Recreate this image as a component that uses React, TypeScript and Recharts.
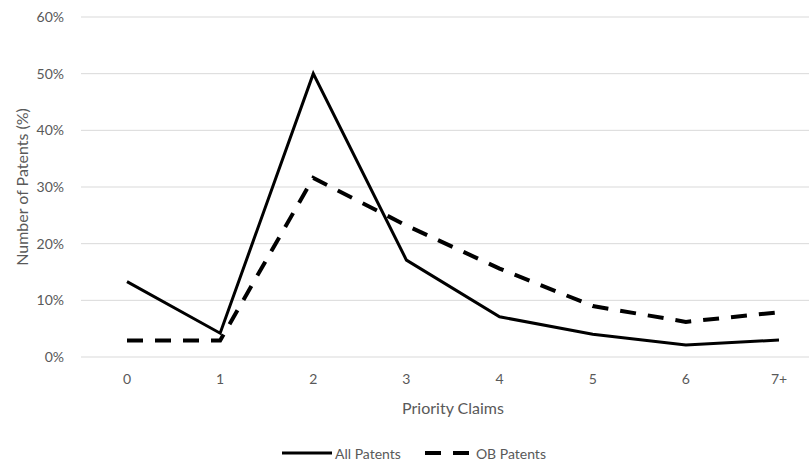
import React from 'react';
import { LineChart, Line, XAxis, YAxis, CartesianGrid, Legend } from 'recharts';

const categories = ['0', '1', '2', '3', '4', '5', '6', '7+'];
const allPatents = [13.3, 4.2, 50, 17.1, 7.1, 4.0, 2.1, 3.0];
const obPatents = [2.9, 2.9, 31.6, 23.2, 15.6, 9.0, 6.2, 7.9];
const yTicks = [0, 10, 20, 30, 40, 50, 60];

const data = categories.map((c, i) => ({ cat: c, all: allPatents[i], ob: obPatents[i] }));

const FONT = 'Lato, "Open Sans", sans-serif';
const GREY = '#595959';

const LegendContent = () => (
  <div style={{ display: 'flex', alignItems: 'center', marginLeft: 282, fontFamily: FONT, fontSize: 14, color: GREY, height: 20 }}>
    <svg width={50} height={10}><line x1={0} y1={5} x2={50} y2={5} stroke="#000" strokeWidth={3} /></svg>
    <span style={{ marginLeft: 3 }}>All Patents</span>
    <svg width={46} height={10} style={{ marginLeft: 24 }}><line x1={0} y1={5} x2={46} y2={5} stroke="#000" strokeWidth={4} strokeDasharray="16 12" /></svg>
    <span style={{ marginLeft: 5 }}>OB Patents</span>
  </div>
);

export default function App() {
  return (
    <div style={{ position: 'absolute', left: 0, top: 0, width: 809, height: 461, overflow: 'hidden', background: '#fff' }}>
      <LineChart width={830} height={461} data={data} margin={{ top: 17, right: 5, bottom: 27, left: 0 }}>
        <CartesianGrid horizontal vertical={false} stroke="#d9d9d9" strokeWidth={1} />
        <XAxis
          dataKey="cat"
          axisLine={false}
          tickLine={false}
          tickSize={0}
          tickMargin={17}
          height={57}
          padding={{ left: 46, right: 46 }}
          tick={{ fill: GREY, fontSize: 14, fontFamily: FONT }}
          label={{ value: 'Priority Claims', position: 'insideBottom', offset: 0, fill: GREY, fontSize: 16, fontFamily: FONT }}
        />
        <YAxis
          width={81}
          domain={[0, 60]}
          ticks={yTicks}
          tickFormatter={(v) => `${v}%`}
          axisLine={false}
          tickLine={false}
          tickSize={0}
          tickMargin={17}
          tick={{ fill: GREY, fontSize: 14, fontFamily: FONT }}
          label={{ value: 'Number of Patents (%)', angle: -90, position: 'insideLeft', offset: 22, fill: GREY, fontSize: 16, fontFamily: FONT, style: { textAnchor: 'middle' } }}
        />
        <Legend verticalAlign="bottom" content={<LegendContent />} wrapperStyle={{ top: 443, left: 0, width: 830, height: 20 }} />
        <Line type="linear" dataKey="all" name="All Patents" stroke="#000" strokeWidth={3} dot={false} isAnimationActive={false} />
        <Line type="linear" dataKey="ob" name="OB Patents" stroke="#000" strokeWidth={4} strokeDasharray="16 12" dot={false} isAnimationActive={false} />
      </LineChart>
    </div>
  );
}
